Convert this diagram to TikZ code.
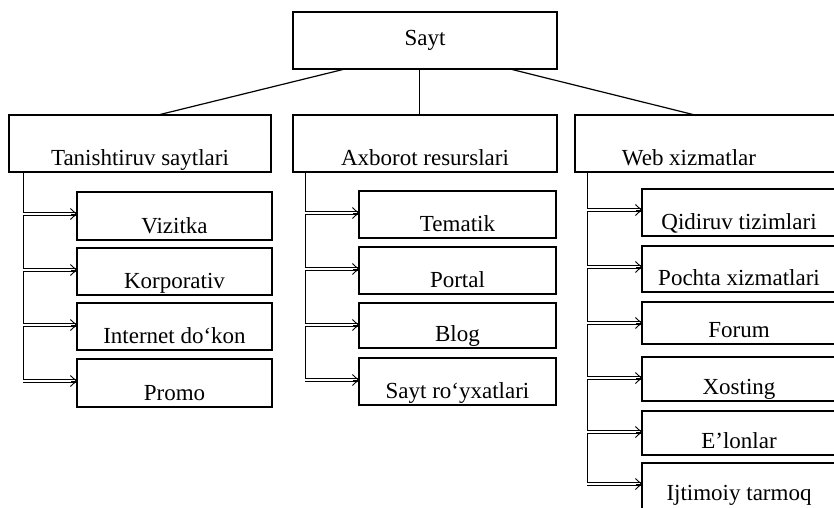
\documentclass[tikz,border=0pt]{standalone}
\usepackage{fontspec}
\setmainfont{Liberation Serif}
\usetikzlibrary{arrows.meta,calc}
\begin{document}
\begin{tikzpicture}[x=1pt,y=-1pt,
  bx/.style={draw, line width=1.3pt, anchor=north west, inner sep=0pt, outer sep=0pt},
  txt/.style={font=\fontsize{23}{26}\selectfont, anchor=base, inner sep=0pt, yshift=7pt},
  lab/.style={label={[txt]south:#1}},
  labup/.style={label={[txt, yshift=4pt]south:#1}},
  con/.style={line width=1.2pt},
  thin/.style={line width=1pt},
  arr/.style={double, double distance=2.6pt, line width=0.9pt, shorten >=1pt},
  tip/.style={line width=0.9pt, -{Straight Barb[length=6pt, width=11pt]}},
]
\useasboundingbox (0,0) rectangle (834,507);
\clip (0,0) rectangle (834,507);

% top
\node[bx, minimum width=264pt, minimum height=57pt, font=\fontsize{23}{26}\selectfont] (sayt) at (293,12) {Sayt};

% level 2
\node[bx, minimum width=262pt, minimum height=57pt, lab={Tanishtiruv saytlari}] (t1) at (9,115) {};
\node[bx, minimum width=264pt, minimum height=57pt, lab={Axborot resurslari}] (t2) at (293,115) {};
\node[bx, minimum width=262pt, minimum height=57pt, lab={Web xizmatlar\hspace*{34pt}}] (t3) at (575,115) {};

\draw[con] ($(sayt.south west)+(52,0)$) -- ($(t1.north west)+(149,0)$);
\draw[thin] ($(sayt.south west)+(126,0)$) -- ($(t2.north west)+(126,0)$);
\draw[con] ($(sayt.south west)+(217,0)$) -- ($(t3.north west)+(120,0)$);

% column 1
\node[bx, minimum width=195pt, minimum height=48pt, lab={Vizitka}] (a1) at (77,192) {};
\node[bx, minimum width=195pt, minimum height=47pt, lab={Korporativ}] (a2) at (77,248) {};
\node[bx, minimum width=195pt, minimum height=47pt, lab={Internet do‘kon}] (a3) at (77,303) {};
\node[bx, minimum width=195pt, minimum height=48pt, lab={Promo}] (a4) at (77,359) {};

% column 2
\node[bx, minimum width=197pt, minimum height=47pt, lab={Tematik}] (b1) at (359,191) {};
\node[bx, minimum width=197pt, minimum height=47pt, lab={Portal}] (b2) at (359,247) {};
\node[bx, minimum width=197pt, minimum height=45pt, lab={Blog}] (b3) at (359,303) {};
\node[bx, minimum width=197pt, minimum height=47pt, lab={Sayt ro‘yxatlari}] (b4) at (359,358) {};

% column 3
\node[bx, minimum width=194pt, minimum height=47pt, lab={Qidiruv tizimlari}] (c1) at (642,189) {};
\node[bx, minimum width=194pt, minimum height=46pt, lab={Pochta xizmatlari}] (c2) at (642,246) {};
\node[bx, minimum width=194pt, minimum height=42pt, lab={Forum}] (c3) at (642,302) {};
\node[bx, minimum width=194pt, minimum height=44pt, lab={Xosting}] (c4) at (642,357) {};
\node[bx, minimum width=194pt, minimum height=44pt, lab={E’lonlar}] (c5) at (642,411) {};
\node[bx, minimum width=194pt, minimum height=48pt, labup={Ijtimoiy tarmoq}] (c6) at (642,463) {};

% branches
\coordinate (ba) at ($(t1.south west)+(14,0)$);
\coordinate (bb) at ($(t2.south west)+(12,0)$);
\coordinate (bc) at ($(t3.south west)+(12,0)$);

\draw[thin] (ba) -- ($(ba |- a4.north west)+(0,23)$);
\foreach \n in {a1,a2,a3,a4}{
  \draw[arr] ($(ba |- \n.north west)+(0,22)$) -- ($(\n.north west)+(0,22)$);
  \draw[tip] ($(\n.north west)+(-6,22)$) -- ($(\n.north west)+(0,22)$);
}

\draw[thin] (bb) -- ($(bb |- b4.north west)+(0,23)$);
\foreach \n in {b1,b2,b3,b4}{
  \draw[arr] ($(bb |- \n.north west)+(0,22)$) -- ($(\n.north west)+(0,22)$);
  \draw[tip] ($(\n.north west)+(-6,22)$) -- ($(\n.north west)+(0,22)$);
}

\draw[thin] (bc) -- ($(bc |- c6.north west)+(0,21)$);
\foreach \n in {c1,c2,c3,c4,c5,c6}{
  \draw[arr] ($(bc |- \n.north west)+(0,21)$) -- ($(\n.north west)+(0,21)$);
  \draw[tip] ($(\n.north west)+(-6,21)$) -- ($(\n.north west)+(0,21)$);
}
\end{tikzpicture}
\end{document}
